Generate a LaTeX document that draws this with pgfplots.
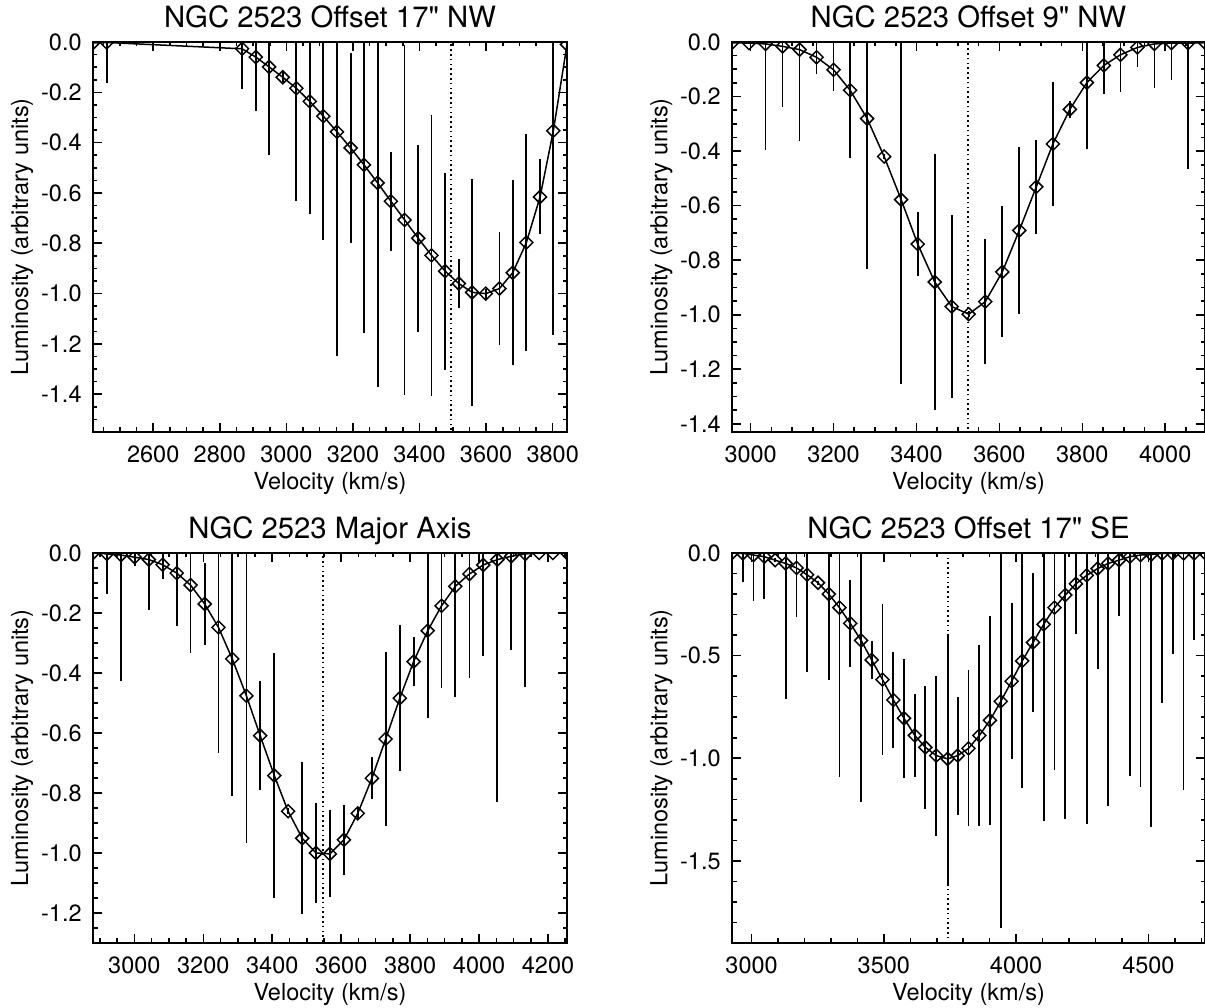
\documentclass[border=0pt]{standalone}
\usepackage{fontspec}
\setmainfont{TeX Gyre Heros}
\usepackage{pgfplots}
\usepackage{pgfplotstable}
\pgfplotsset{compat=1.18}

\pgfplotstableread{
x y e
2419 -0.004 0
2460 -0.002 0.161
2867 -0.027 0.161
2908 -0.060 0.215
2948 -0.099 0.349
2989 -0.140 0.02
3030 -0.184 0.449
3070 -0.236 0.448
3111 -0.295 0.493
3152 -0.357 0.891
3193 -0.421 0.378
3233 -0.488 0.667
3274 -0.560 0.813
3314 -0.633 0.197
3355 -0.707 0.697
3396 -0.780 0.372
3436 -0.848 0.559
3477 -0.911 0.392
3518 -0.960 0.098
3558 -0.995 0.450
3599 -1.000 0.02
3640 -0.980 0.224
3680 -0.917 0.368
3721 -0.797 0.430
3762 -0.616 0.149
3802 -0.353 0.810
3843 -0.010 0
}\dataA

\pgfplotstableread{
x y e
2955 -0.003 0
2996 -0.004 0
3036 -0.007 0.390
3077 -0.016 0.222
3118 -0.028 0.334
3159 -0.056 0.060
3200 -0.102 0.077
3240 -0.177 0.250
3281 -0.281 0.552
3322 -0.420 0.01
3363 -0.578 0.675
3403 -0.741 0.117
3444 -0.880 0.468
3485 -0.970 0.335
3526 -0.998 0.01
3566 -0.952 0.230
3607 -0.843 0.240
3648 -0.691 0.307
3689 -0.531 0.172
3729 -0.374 0.227
3770 -0.247 0.030
3811 -0.149 0.244
3852 -0.086 0.103
3892 -0.047 0.138
3933 -0.020 0.070
3974 -0.007 0.160
4015 -0.004 0.135
4055 -0.004 0.460
4096 -0.003 0
}\dataB

\pgfplotstableread{
x y e
2880 0.000 0
2920 -0.003 0.134
2961 -0.007 0.420
3001 -0.014 0.028
3042 -0.022 0.168
3082 -0.039 0.048
3123 -0.067 0.175
3163 -0.107 0.227
3204 -0.170 0.137
3244 -0.248 0.419
3284 -0.353 0.456
3325 -0.476 0.491
3365 -0.609 0.182
3406 -0.742 0.408
3446 -0.861 0.01
3487 -0.951 0.253
3527 -1.000 0.168
3567 -1.003 0.145
3608 -0.956 0.116
3648 -0.868 0.020
3689 -0.751 0.070
3729 -0.620 0.290
3770 -0.484 0.243
3810 -0.362 0.081
3851 -0.259 0.290
3891 -0.176 0.274
3931 -0.111 0.370
3972 -0.070 0.347
4012 -0.040 0.304
4053 -0.022 0.809
4093 -0.011 0.312
4134 -0.003 0.445
4174 0.000 0
4214 0.000 0
4255 0.000 0
}\dataC

\pgfplotstableread{
x y e
2926 0.000 0
2967 -0.002 0.140
3007 -0.010 0.223
3048 -0.018 0.206
3089 -0.035 0.01
3129 -0.051 0.660
3170 -0.073 0.239
3210 -0.106 0.473
3251 -0.145 0.01
3292 -0.200 0.420
3332 -0.266 0.825
3373 -0.343 0.210
3414 -0.426 0.785
3454 -0.521 0.093
3495 -0.617 0.369
3536 -0.716 0.234
3576 -0.805 0.290
3617 -0.889 0.203
3657 -0.947 0.300
3698 -0.987 0.390
3741 -1.003 0.610
3779 -0.987 0.287
3820 -0.952 0.380
3861 -0.889 0.440
3901 -0.815 0.510
3942 -0.723 1.105
3983 -0.625 0.380
4023 -0.526 0.620
4064 -0.436 0.340
4104 -0.348 0.960
4145 -0.266 0.790
4186 -0.205 1.090
4226 -0.150 0.243
4267 -0.109 1.210
4308 -0.076 0.490
4348 -0.051 1.180
4389 -0.035 0.270
4430 -0.018 1.070
4470 -0.010 1.130
4511 -0.007 1.330
4552 -0.002 0.730
4592 -0.002 0.490
4633 -0.002 1.155
4673 -0.002 0.420
4714 0.000 0
}\dataD

\pgfplotsset{
  idl/.style={
    scale only axis,
    anchor=south west,
    height=195pt,
    ymax=0,
    clip marker paths=true,
    tick align=inside,
    major tick length=4.5pt,
    minor tick length=2.25pt,
    tick style={line width=0.8pt, black},
    axis line style={line width=0.9pt},
    tick label style={font=\fontsize{11.75}{14}\selectfont},
    xticklabel style={anchor=base, inner sep=0pt, yshift=-15.5pt},
    yticklabel style={anchor=east, inner sep=0pt, xshift=-5.5pt},
    xlabel={Velocity (km/s)},
    ylabel={Luminosity (arbitrary units)},
    every axis x label/.style={at={(axis description cs:0.5,-0.147)}, anchor=base, font=\fontsize{11.75}{14}\selectfont},
    every axis y label/.style={at={(axis description cs:-0.1495,0.5)}, rotate=90, anchor=center, font=\fontsize{11.75}{14}\selectfont},
    every axis title/.style={at={(axis description cs:0.5,1)}, anchor=base, yshift=7pt, font=\fontsize{14.65}{17}\selectfont},
  },
  pts/.style={black, line width=0.75pt, mark=square, mark size=2.3pt,
    mark options={rotate=45, solid, line width=0.75pt},
    error bars/.cd, y dir=both, y explicit, error mark=none,
    error bar style={line width=0.9pt}},
  vline/.style={black, line width=0.75pt, dash pattern=on 0.8pt off 1.6pt},
}

\begin{document}
\begin{tikzpicture}

% Panel 1
\begin{axis}[idl, at={(46.5pt,287.5pt)}, width=237pt,
  title={NGC 2523 Offset 17\textquotedbl{} NW},
  xmin=2419, xmax=3843, ymin=-1.55,
  xtick={2600,2800,3000,3200,3400,3600,3800},
  xticklabels={2600,2800,3000,3200,3400,3600,3800},
  minor xtick={2450,2500,...,3800},
  ytick={-1.4,-1.2,-1,-0.8,-0.6,-0.4,-0.2,0},
  yticklabels={-1.4,-1.2,-1.0,-0.8,-0.6,-0.4,-0.2,0.0},
  minor ytick={-1.55,-1.5,...,0}]
\addplot[vline] coordinates {(3495,-2) (3495,1)};
\addplot[pts] table[x=x,y=y,y error=e]{\dataA};
\end{axis}

% Panel 2
\begin{axis}[idl, at={(366pt,287.5pt)}, width=236.5pt,
  title={NGC 2523 Offset 9\textquotedbl{} NW},
  xmin=2955, xmax=4096, ymin=-1.43,
  xtick={3000,3200,3400,3600,3800,4000},
  xticklabels={3000,3200,3400,3600,3800,4000},
  minor xtick={3000,3050,...,4050},
  ytick={-1.4,-1.2,-1,-0.8,-0.6,-0.4,-0.2,0},
  yticklabels={-1.4,-1.2,-1.0,-0.8,-0.6,-0.4,-0.2,0.0},
  minor ytick={-1.4,-1.35,...,0}]
\addplot[vline] coordinates {(3524,-2) (3524,1)};
\addplot[pts] table[x=x,y=y,y error=e]{\dataB};
\end{axis}

% Panel 3
\begin{axis}[idl, at={(46.5pt,32pt)}, width=237pt,
  title={NGC 2523 Major Axis},
  xmin=2880, xmax=4255, ymin=-1.3,
  xtick={3000,3200,3400,3600,3800,4000,4200},
  xticklabels={3000,3200,3400,3600,3800,4000,4200},
  minor xtick={2900,2950,...,4250},
  ytick={-1.2,-1,-0.8,-0.6,-0.4,-0.2,0},
  yticklabels={-1.2,-1.0,-0.8,-0.6,-0.4,-0.2,0.0},
  minor ytick={-1.3,-1.25,...,0}]
\addplot[vline] coordinates {(3547,-2) (3547,1)};
\addplot[pts] table[x=x,y=y,y error=e]{\dataC};
\end{axis}

% Panel 4
\begin{axis}[idl, at={(366pt,32pt)}, width=236.5pt,
  title={NGC 2523 Offset 17\textquotedbl{} SE},
  xmin=2926, xmax=4714, ymin=-1.9,
  xtick={3000,3500,4000,4500},
  xticklabels={3000,3500,4000,4500},
  minor xtick={3000,3100,...,4700},
  ytick={-1.5,-1,-0.5,0},
  yticklabels={-1.5,-1.0,-0.5,0.0},
  minor ytick={-1.9,-1.8,...,0}]
\addplot[vline] coordinates {(3743,-3) (3743,1)};
\addplot[pts] table[x=x,y=y,y error=e]{\dataD};
\end{axis}

\pgfresetboundingbox
\path[use as bounding box] (0,0) rectangle (602.5pt,503.5pt);
\end{tikzpicture}
\end{document}
